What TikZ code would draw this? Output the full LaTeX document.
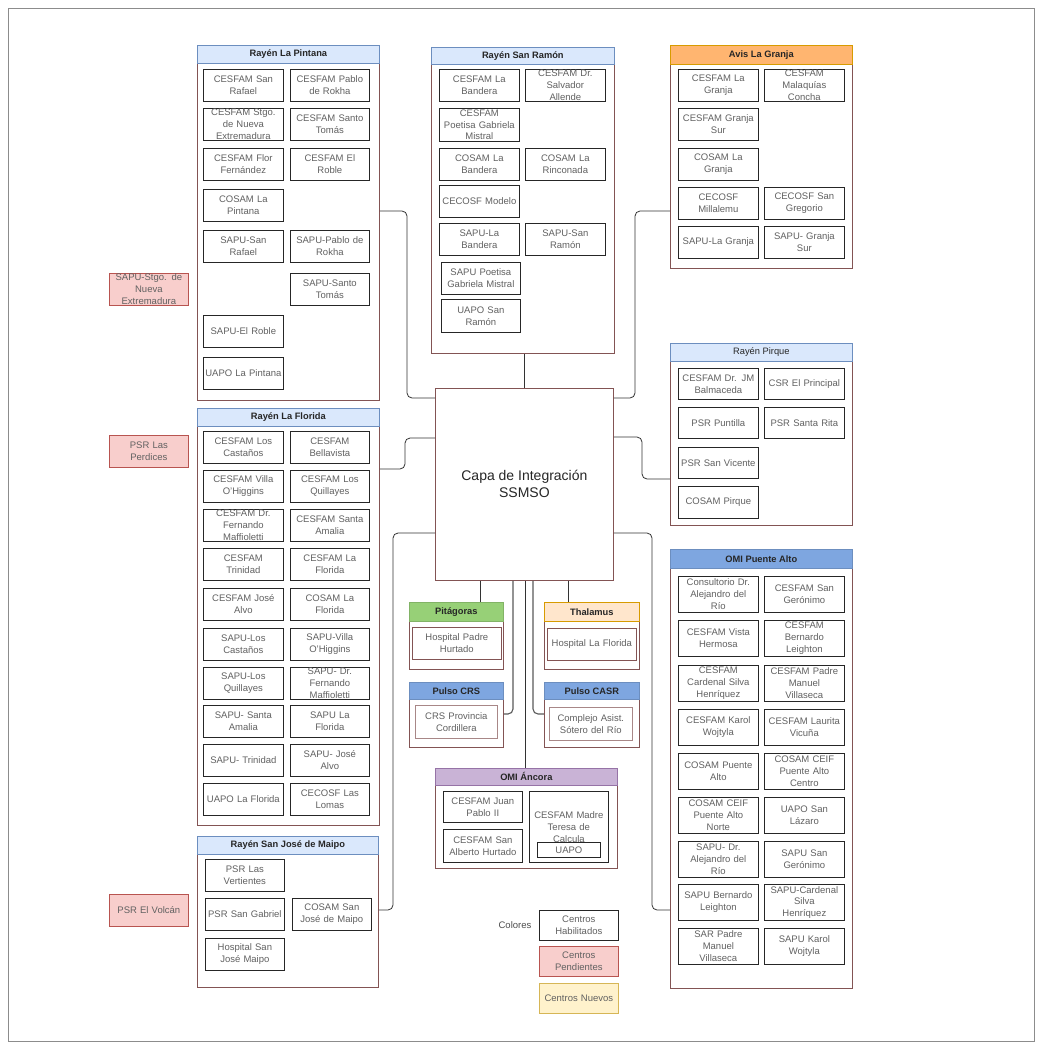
\documentclass[tikz,border=0pt]{standalone}
\usepackage{fontspec}
\setmainfont{Liberation Sans}
\definecolor{cbrd}{HTML}{835454}
\definecolor{hbluef}{HTML}{DAE8FC}
\definecolor{hblued}{HTML}{6C8EBF}
\definecolor{mbluef}{HTML}{7EA6E0}
\definecolor{orangef}{HTML}{FFB570}
\definecolor{oranged}{HTML}{D79B00}
\definecolor{greenf}{HTML}{97D077}
\definecolor{greend}{HTML}{82B366}
\definecolor{peachf}{HTML}{FFE6CC}
\definecolor{purplef}{HTML}{C9B3D6}
\definecolor{purpled}{HTML}{9673A6}
\definecolor{pinkf}{HTML}{F8CECC}
\definecolor{pinkd}{HTML}{B85450}
\definecolor{yelf}{HTML}{FFF2CC}
\definecolor{yeld}{HTML}{D6B656}
\tikzset{
  ibox/.style={draw=black!85, line width=0.7pt, fill=white, text=black!62,
    font=\fontsize{9.5}{11.8}\selectfont, align=center, inner xsep=1pt, inner ysep=0pt,
    text width=76pt, anchor=north west},
  cont/.style={draw=cbrd, line width=0.8pt, fill=white, anchor=north west, inner sep=0pt},
  hdr/.style={draw=hblued, fill=hbluef, line width=0.7pt, anchor=north west, inner sep=0pt,
    font=\bfseries\fontsize{9.3}{10}\selectfont, text=black!85},
  pend/.style={fill=pinkf, draw=pinkd},
  conn/.style={draw=black!80, line width=0.8pt, rounded corners=5pt},
}
\newcommand\bx[7][]{\node[ibox,minimum width=#5,minimum height=#6,#1] (#2) at (#3,#4) {#7};}
\newcommand\ct[8][]{\node[cont,minimum width=#5,minimum height=#6] (#2) at (#3,#4) {};
  \node[hdr,minimum width=#5,minimum height=#7,#1] (#2h) at (#3,#4) {#8};}
\begin{document}
\begin{tikzpicture}[x=1pt,y=-1pt]
\useasboundingbox (0,0) rectangle (1042,1049);
\draw[black!45, line width=0.8pt] (8,8) rectangle (1034,1041);

% ---------- Rayen La Pintana
\ct{pint}{197}{45}{182}{355}{18}{Rayén La Pintana}
\bx{p1}{203}{69}{80}{32}{CESFAM San\\Rafael}
\bx{p2}{290}{69}{79}{32}{CESFAM Pablo\\de Rokha}
\bx{p3}{203}{108}{80}{32}{CESFAM Stgo.\\de Nueva\\Extremadura}
\bx{p4}{290}{108}{79}{32}{CESFAM Santo\\Tomás}
\bx{p5}{203}{148}{80}{32}{CESFAM Flor\\Fernández}
\bx{p6}{290}{148}{79}{32}{CESFAM El\\Roble}
\bx{p7}{203}{189}{80}{32}{COSAM La\\Pintana}
\bx{p8}{203}{230}{80}{32}{SAPU-San\\Rafael}
\bx{p9}{290}{230}{79}{32}{SAPU-Pablo de\\Rokha}
\bx{p10}{290}{273}{79}{32}{SAPU-Santo\\Tomás}
\bx{p11}{203}{315}{80}{32}{SAPU-El Roble}
\bx[text width=80pt,inner xsep=0pt]{p12}{203}{357}{80}{32}{UAPO La Pintana}

% ---------- Rayen San Ramon
\ct{sram}{431}{47}{183}{306}{17}{Rayén San Ramón}
\bx{s1}{439}{69}{80}{32}{CESFAM La\\Bandera}
\bx{s2}{525}{69}{80}{32}{CESFAM Dr.\\Salvador\\Allende}
\bx{s3}{439}{108}{80}{33}{CESFAM\\Poetisa Gabriela\\Mistral}
\bx{s4}{439}{148}{80}{32}{COSAM La\\Bandera}
\bx{s5}{525}{148}{80}{32}{COSAM La\\Rinconada}
\bx{s6}{439}{185}{80}{32}{CECOSF Modelo}
\bx{s7}{439}{223}{80}{32}{SAPU-La\\Bandera}
\bx{s8}{525}{223}{80}{32}{SAPU-San\\Ramón}
\bx{s9}{441}{262}{79}{32}{SAPU Poetisa\\Gabriela Mistral}
\bx{s10}{441}{299}{79}{33}{UAPO San\\Ramón}

% ---------- Avis La Granja
\ct[fill=orangef,draw=oranged]{gran}{670}{45}{182}{223}{19}{Avis La Granja}
\bx{g1}{678}{69}{80}{32}{CESFAM La\\Granja}
\bx{g2}{764}{69}{80}{32}{CESFAM\\Malaquías\\Concha}
\bx{g3}{678}{108}{80}{32}{CESFAM Granja\\Sur}
\bx{g4}{678}{148}{80}{32}{COSAM La\\Granja}
\bx{g5}{678}{187}{80}{32}{CECOSF\\Millalemu}
\bx{g6}{764}{187}{80}{32}{CECOSF San\\Gregorio}
\bx{g7}{678}{226}{80}{32}{SAPU-La Granja}
\bx{g8}{764}{226}{80}{32}{SAPU- Granja\\Sur}

% ---------- Rayen Pirque
\ct[font=\fontsize{9.3}{10}\selectfont]{pirq}{670}{343}{182}{182}{18}{Rayén Pirque}
\bx{q1}{678}{368}{80}{31}{CESFAM Dr. JM\\Balmaceda}
\bx{q2}{764}{368}{80}{31}{CSR El Principal}
\bx{q3}{678}{407}{80}{31}{PSR Puntilla}
\bx{q4}{764}{407}{80}{31}{PSR Santa Rita}
\bx{q5}{678}{447}{80}{31}{PSR San Vicente}
\bx{q6}{678}{486}{80}{32}{COSAM Pirque}

% ---------- Rayen La Florida
\ct{flor}{197}{408}{182}{417}{18}{Rayén La Florida}
\bx{f1}{203}{431}{80}{32}{CESFAM Los\\Castaños}
\bx{f2}{290}{431}{79}{32}{CESFAM\\Bellavista}
\bx{f3}{203}{470}{80}{32}{CESFAM Villa\\O'Higgins}
\bx{f4}{290}{470}{79}{32}{CESFAM Los\\Quillayes}
\bx{f5}{203}{509}{80}{32}{CESFAM Dr.\\Fernando\\Maffioletti}
\bx{f6}{290}{509}{79}{32}{CESFAM Santa\\Amalia}
\bx{f7}{203}{548}{80}{32}{CESFAM\\Trinidad}
\bx{f8}{290}{548}{79}{32}{CESFAM La\\Florida}
\bx{f9}{203}{588}{80}{32}{CESFAM José\\Alvo}
\bx{f10}{290}{588}{79}{32}{COSAM La\\Florida}
\bx{f11}{203}{628}{80}{32}{SAPU-Los\\Castaños}
\bx{f12}{290}{628}{79}{32}{SAPU-Villa\\O'Higgins}
\bx{f13}{203}{667}{80}{32}{SAPU-Los\\Quillayes}
\bx{f14}{290}{667}{79}{32}{SAPU- Dr.\\Fernando\\Maffioletti}
\bx{f15}{203}{705}{80}{32}{SAPU- Santa\\Amalia}
\bx{f16}{290}{705}{79}{32}{SAPU La\\Florida}
\bx{f17}{203}{744}{80}{32}{SAPU- Trinidad}
\bx{f18}{290}{744}{79}{32}{SAPU- José\\Alvo}
\bx[text width=80pt,inner xsep=0pt]{f19}{203}{783}{80}{32}{UAPO La Florida}
\bx{f20}{290}{783}{79}{32}{CECOSF Las\\Lomas}

% ---------- OMI Puente Alto
\ct[fill=mbluef]{omipa}{670}{549}{182}{439}{19}{OMI Puente Alto}
\bx{o1}{678}{576}{80}{36}{Consultorio Dr.\\Alejandro del\\Río}
\bx{o2}{764}{576}{80}{36}{CESFAM San\\Gerónimo}
\bx{o3}{678}{620}{80}{36}{CESFAM Vista\\Hermosa}
\bx{o4}{764}{620}{80}{36}{CESFAM\\Bernardo\\Leighton}
\bx{o5}{678}{665}{80}{36}{CESFAM\\Cardenal Silva\\Henríquez}
\bx{o6}{764}{665}{80}{36}{CESFAM Padre\\Manuel\\Villaseca}
\bx{o7}{678}{709}{80}{36}{CESFAM Karol\\Wojtyla}
\bx{o8}{764}{709}{80}{36}{CESFAM Laurita\\Vicuña}
\bx{o9}{678}{753}{80}{36}{COSAM Puente\\Alto}
\bx{o10}{764}{753}{80}{36}{COSAM CEIF\\Puente Alto\\Centro}
\bx{o11}{678}{797}{80}{36}{COSAM CEIF\\Puente Alto\\Norte}
\bx{o12}{764}{797}{80}{36}{UAPO San\\Lázaro}
\bx{o13}{678}{841}{80}{36}{SAPU- Dr.\\Alejandro del\\Río}
\bx{o14}{764}{841}{80}{36}{SAPU San\\Gerónimo}
\bx{o15}{678}{884}{80}{36}{SAPU Bernardo\\Leighton}
\bx{o16}{764}{884}{80}{36}{SAPU-Cardenal\\Silva\\Henríquez}
\bx{o17}{678}{928}{80}{36}{SAR Padre\\Manuel\\Villaseca}
\bx{o18}{764}{928}{80}{36}{SAPU Karol\\Wojtyla}

% ---------- Center
\node[draw=cbrd, line width=0.8pt, fill=white, minimum width=178, minimum height=192,
  anchor=north west, font=\fontsize{14}{17}\selectfont, align=center, text=black!85]
  (cap) at (435,388) {Capa de Integración\\SSMSO};

% ---------- small systems
\ct[fill=greenf,draw=greend]{pitag}{409}{602}{94}{67}{19}{Pitágoras}
\bx[draw=cbrd,text width=85pt]{pit1}{412}{627}{89}{32}{Hospital Padre\\Hurtado}
\ct[fill=peachf,draw=oranged]{thal}{544}{602}{95}{67}{19}{Thalamus}
\bx[draw=cbrd,text width=86pt]{thal1}{547}{628}{89}{32}{Hospital La Florida}
\ct[fill=mbluef]{pcrs}{409}{682}{94}{65}{17}{Pulso CRS}
\bx[draw=cbrd!70,text width=78pt]{pcrs1}{415}{705}{82}{33}{CRS Provincia\\Cordillera}
\ct[fill=mbluef]{pcasr}{544}{682}{95}{65}{17}{Pulso CASR}
\bx[draw=cbrd!70,text width=80pt]{pcasr1}{549}{707}{83}{33}{Complejo Asist.\\Sótero del Río}

% ---------- OMI Ancora
\ct[fill=purplef,draw=purpled]{anc}{435}{768}{182}{100}{17}{OMI Áncora}
\bx{a1}{443}{791}{79}{31}{CESFAM Juan\\Pablo II}
\bx{a2}{443}{829}{79}{33}{CESFAM San\\Alberto Hurtado}
\bx{a3}{529}{791}{79}{71}{CESFAM Madre\\Teresa de\\Calcula}
\bx[text width=60pt]{a4}{537}{842}{63}{15}{UAPO}

% ---------- Rayen San Jose de Maipo
\ct{sjm}{197}{836}{181}{151}{18}{Rayén San José de Maipo}
\bx{j1}{205}{859}{79}{32}{PSR Las\\Vertientes}
\bx{j2}{205}{898}{79}{32}{PSR San Gabriel}
\bx{j3}{292}{898}{79}{32}{COSAM San\\José de Maipo}
\bx{j4}{205}{938}{79}{32}{Hospital San\\José Maipo}

% ---------- pending (left)
\bx[pend]{x1}{109}{273}{79}{32}{SAPU-Stgo. de\\Nueva\\Extremadura}
\bx[pend]{x2}{109}{435}{79}{32}{PSR Las\\Perdices}
\bx[pend]{x3}{109}{894}{79}{32}{PSR El Volcán}

% ---------- legend
\node[font=\fontsize{9.5}{11.8}\selectfont, text=black!70] (colores) at (515,925) {Colores};
\bx{l1}{539}{910}{79}{30}{Centros\\Habilitados}
\bx[pend]{l2}{539}{946}{79}{30}{Centros\\Pendientes}
\bx[fill=yelf,draw=yeld]{l3}{539}{983}{79}{30}{Centros Nuevos}

% ---------- connectors
\draw[conn] (pint.east |- 0,211) -| (407,398) -- (cap.west |- 0,398);
\draw[conn] (cap.north |- sram.south) -- (cap.north);
\draw[conn] (gran.west |- 0,211) -| (635,398) -- (cap.east |- 0,398);
\draw[conn] (flor.east |- 0,469) -| (405,438) -- (cap.west |- 0,438);
\draw[conn] (cap.east |- 0,437) -| (642,479) -- (pirq.west |- 0,479);
\draw[conn] (sjm.east |- 0,910) -| (393,533) -- (cap.west |- 0,533);
\draw[conn] (cap.east |- 0,533) -| (652,910) -- (omipa.west |- 0,910);
\draw[conn] (cap.south -| 480,0) -- (pitagh.north -| 480,0);
\draw[conn] (cap.south -| 568,0) -- (thalh.north -| 568,0);
\draw[conn, line width=1.1pt, draw=black!65] (cap.south -| 513,0) |- (pcrs.east |- 0,714);
\draw[conn, line width=1.1pt, draw=black!65] (cap.south -| 533,0) |- (pcasr.west |- 0,714);
\draw[conn] (cap.south -| 525,0) -- (anch.north -| 525,0);
\end{tikzpicture}
\end{document}
